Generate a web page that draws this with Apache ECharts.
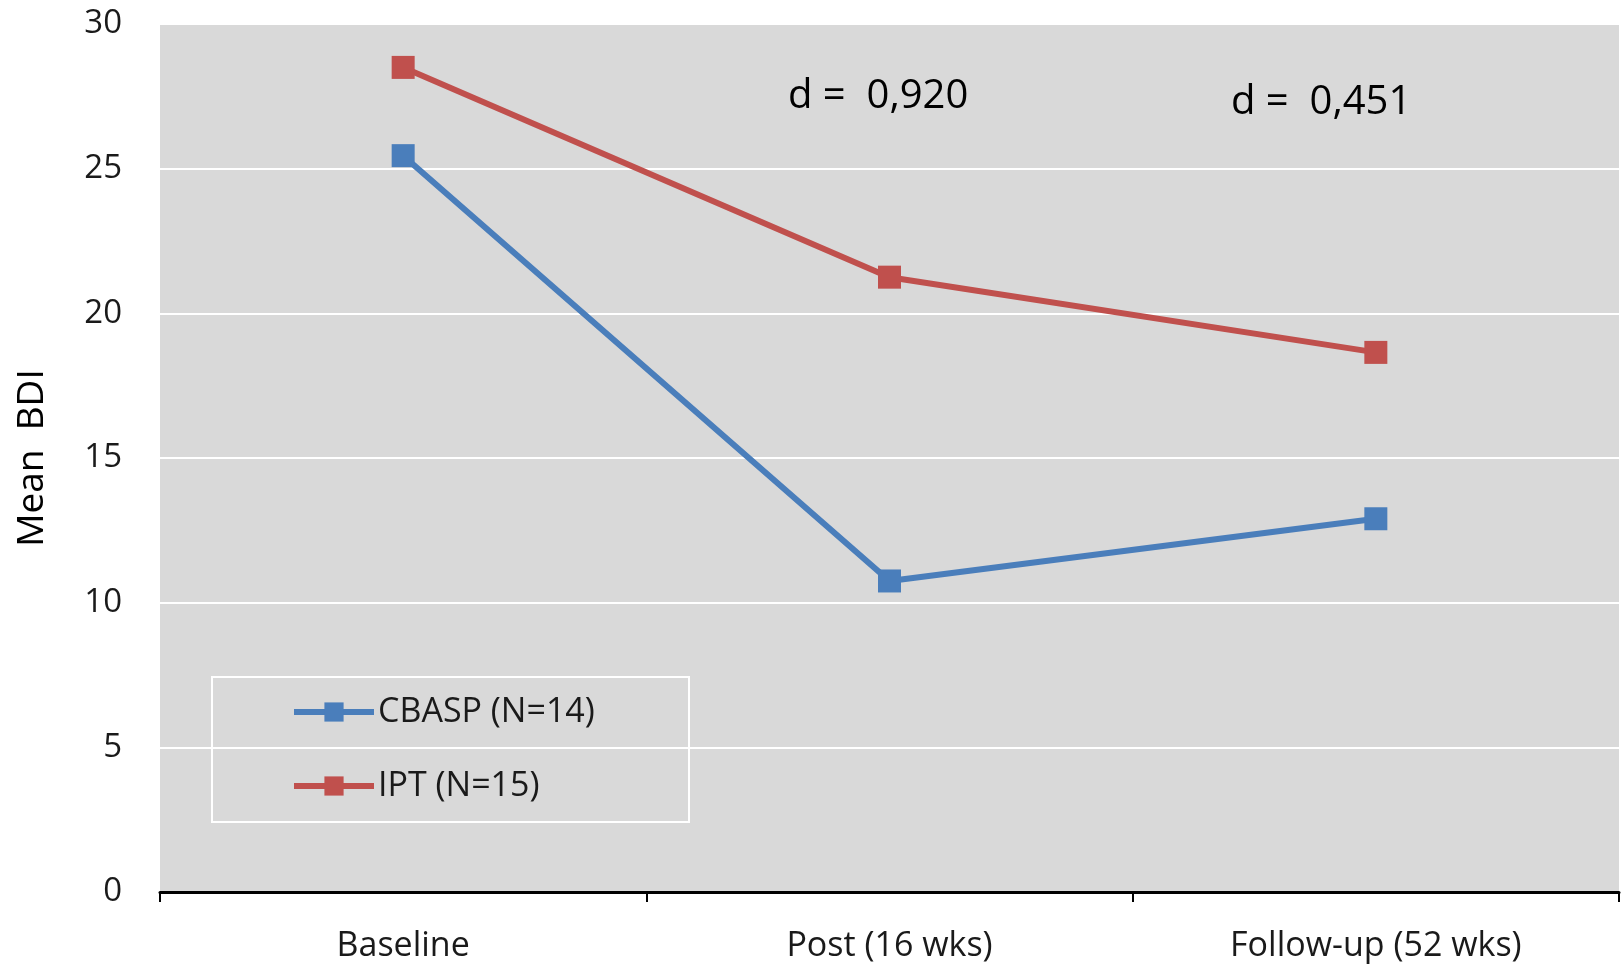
<!DOCTYPE html>
<html>
<head>
<meta charset="utf-8">
<script src="https://cdn.jsdelivr.net/npm/echarts@6/dist/echarts.min.js"></script>
<style>
html,body{margin:0;padding:0;background:#fff;}
#chart{width:1622px;height:968px;}
</style>
</head>
<body>
<div id="chart"></div>
<script>
const categories = ['Baseline', 'Post (16 wks)', 'Follow-up (52 wks)'];
const cbaspValues = [25.45, 10.75, 12.9];
const iptValues = [28.5, 21.25, 18.65];
const seriesNames = ['CBASP (N=14)', 'IPT (N=15)'];
const yTicks = { min: 0, max: 30, interval: 5 };
const annotations = ['d =  0,920', 'd =  0,451'];

const FONT = '"Open Sans", sans-serif';
const chart = echarts.init(document.getElementById('chart'));
chart.setOption({
  animation: false,
  backgroundColor: '#ffffff',
  textStyle: { fontFamily: FONT },
  grid: {
    left: 160, top: 24, right: 3, bottom: 76,
    show: true, backgroundColor: '#d9d9d9', borderWidth: 0
  },
  xAxis: {
    type: 'category',
    data: categories,
    boundaryGap: true,
    axisLine: { show: true, lineStyle: { color: '#000', width: 3 } },
    axisTick: { show: true, length: 10, interval: 0, lineStyle: { color: '#000', width: 2 } },
    axisLabel: { fontSize: 34, color: '#1a1a1a', margin: 37, fontFamily: FONT },
    splitLine: { show: false }
  },
  yAxis: {
    type: 'value',
    min: yTicks.min, max: yTicks.max, interval: yTicks.interval,
    name: 'Mean  BDI',
    nameLocation: 'middle',
    nameRotate: 90,
    nameGap: 109,
    nameTextStyle: { fontSize: 37, color: '#000', fontFamily: FONT },
    axisLine: { show: false },
    axisTick: { show: false },
    axisLabel: { fontSize: 33, color: '#1a1a1a', margin: 38, fontFamily: FONT },
    splitLine: { show: true, lineStyle: { color: '#ffffff', width: 2 } }
  },
  legend: {
    orient: 'vertical',
    left: 286, top: 690,
    itemWidth: 80, itemHeight: 24,
    itemGap: 40,
    lineStyle: { width: 6 },
    textStyle: { fontSize: 34, color: '#1a1a1a', fontFamily: FONT, padding: [0, 0, 0, -1] },
    data: seriesNames
  },
  graphic: [
    {
      type: 'rect', left: 211, top: 676, z: 0,
      shape: { width: 477, height: 145 },
      style: { fill: 'rgba(0,0,0,0)', stroke: '#ffffff', lineWidth: 2 }
    },
    {
      type: 'text', left: 788, top: 77,
      style: { text: annotations[0], fontSize: 40, fill: '#000', fontFamily: FONT }
    },
    {
      type: 'text', left: 1231, top: 83,
      style: { text: annotations[1], fontSize: 40, fill: '#000', fontFamily: FONT }
    }
  ],
  series: [
    {
      name: seriesNames[0], type: 'line', data: cbaspValues,
      symbol: 'rect', symbolSize: 23,
      lineStyle: { color: '#4a7ebb', width: 6 },
      itemStyle: { color: '#4a7ebb' }
    },
    {
      name: seriesNames[1], type: 'line', data: iptValues,
      symbol: 'rect', symbolSize: 23,
      lineStyle: { color: '#c0504d', width: 6 },
      itemStyle: { color: '#c0504d' }
    }
  ]
});
</script>
</body>
</html>
